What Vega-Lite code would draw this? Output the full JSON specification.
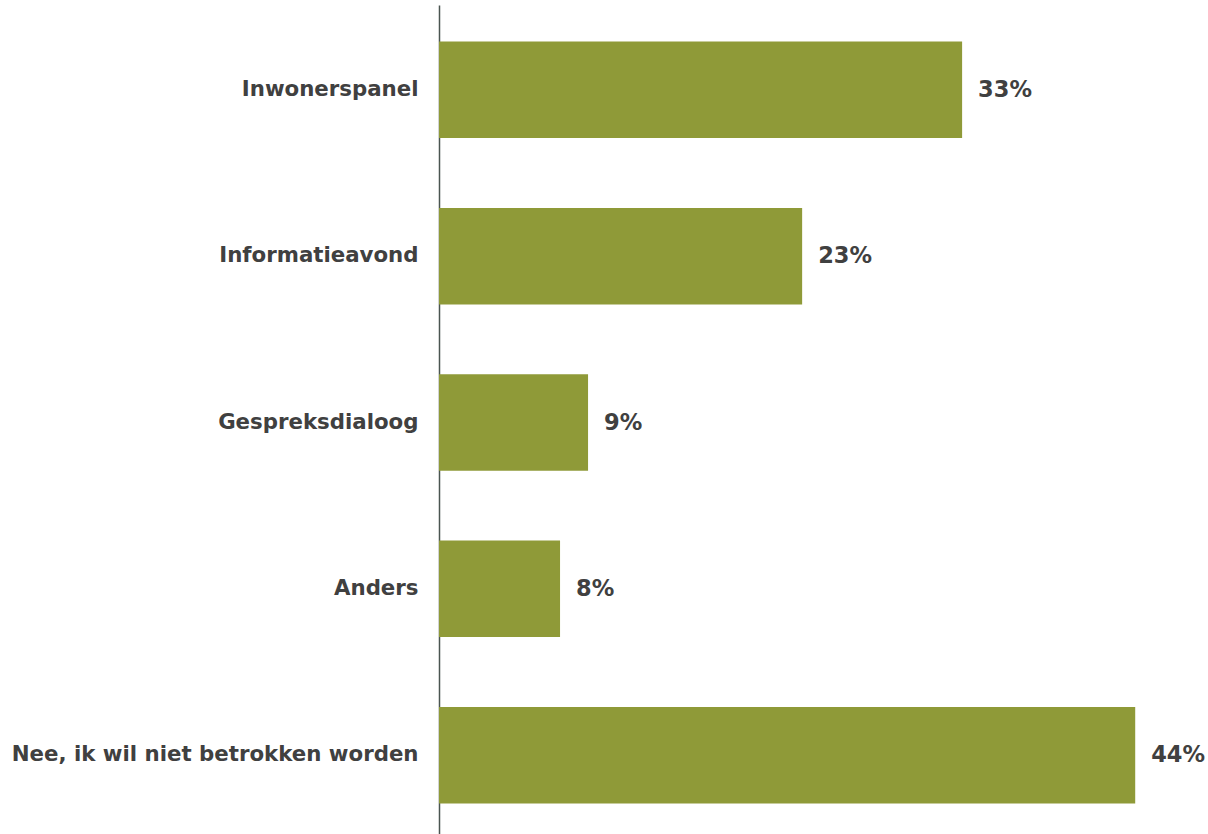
{
  "$schema": "https://vega.github.io/schema/vega-lite/v6.json",
  "autosize": {"type": "none"},
  "padding": {"left": 439, "top": 5, "right": 0, "bottom": 0},
  "width": 769,
  "height": 835,
  "background": "white",
  "config": {"view": {"stroke": null}, "font": "DejaVu Sans"},
  "data": {
    "values": [
      {"categorie": "Inwonerspanel", "waarde": 33.06, "label": "33%"},
      {"categorie": "Informatieavond", "waarde": 22.95, "label": "23%"},
      {"categorie": "Gespreksdialoog", "waarde": 9.42, "label": "9%"},
      {"categorie": "Anders", "waarde": 7.65, "label": "8%"},
      {"categorie": "Nee, ik wil niet betrokken worden", "waarde": 44.0, "label": "44%"}
    ]
  },
  "encoding": {
    "y": {
      "field": "categorie",
      "type": "nominal",
      "sort": null,
      "scale": {"paddingInner": 0.42, "paddingOuter": 0.22},
      "axis": {
        "title": null,
        "ticks": false,
        "labelPadding": 21,
        "labelFontSize": 21.3,
        "labelFontWeight": "bold",
        "labelColor": "#404040",
        "labelFont": "DejaVu Sans",
        "domainColor": "#4a5550",
        "domainWidth": 1.5,
        "labelLimit": 600
      }
    },
    "x": {
      "field": "waarde",
      "type": "quantitative",
      "scale": {"domain": [0, 48.6], "nice": false},
      "axis": null
    }
  },
  "layer": [
    {"mark": {"type": "bar", "color": "#8f9a38"}},
    {
      "mark": {"type": "text", "align": "left", "baseline": "middle", "dx": 16, "fontSize": 22.5, "fontWeight": "bold", "color": "#404040", "font": "DejaVu Sans"},
      "encoding": {"text": {"field": "label"}}
    }
  ]
}
